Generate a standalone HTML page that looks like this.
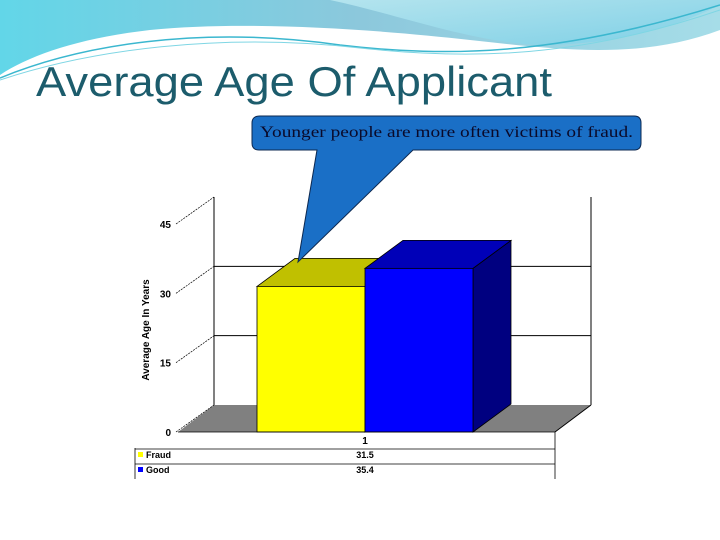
<!DOCTYPE html>
<html><head><meta charset="utf-8"><style>
html,body{margin:0;padding:0;background:#fff;}
svg{display:block;}
</style></head><body>
<svg width="720" height="540" viewBox="0 0 720 540" xmlns="http://www.w3.org/2000/svg">
<defs>
<linearGradient id="sky" x1="0" y1="0" x2="1" y2="0">
<stop offset="0" stop-color="#62d6e8"/><stop offset="0.5" stop-color="#8cc8dc"/><stop offset="1" stop-color="#a6dde8"/>
</linearGradient>
<linearGradient id="sky2" x1="0" y1="0" x2="1" y2="1">
<stop offset="0" stop-color="#b4e4ee"/><stop offset="1" stop-color="#7fd0e6"/>
</linearGradient>
</defs>
<g>
<path d="M0,0 H720 V30 C640,60 560,50 470,40 C380,30 250,20 150,30 C80,38 30,55 0,75 Z" fill="url(#sky)"/>
<path d="M330,0 H720 V5 C680,25 620,45 540,45 C470,42 400,15 330,0 Z" fill="url(#sky2)"/>
<path d="M0,78 C80,45 200,25 340,45 C450,58 560,55 720,5" fill="none" stroke="#3bb7cf" stroke-width="1.5"/>
<path d="M0,80 C90,50 220,32 360,48 C470,60 580,58 720,10" fill="none" stroke="#7fd6e4" stroke-width="1"/>
</g>
<text x="36" y="96" font-family="Liberation Sans, sans-serif" font-size="42" fill="#1c5c6c" textLength="516" lengthAdjust="spacingAndGlyphs">Average Age Of Applicant</text>
<g id="chart"></g>
<g>
<path d="M260,116 H634 Q641,116 641,123 V143 Q641,150 634,150 H413 L298,262 L317,150 H259 Q252,150 252,143 V123 Q252,116 260,116 Z" fill="#1a6fc6" stroke="#0c2850" stroke-width="1"/>
<text x="260" y="137" font-family="Liberation Serif, serif" font-size="16" fill="#0a0a2a" textLength="373" lengthAdjust="spacingAndGlyphs">Younger people are more often victims of fraud.</text>
</g>
</svg>
<script>
const categories = ["1"];
const seriesNames = ["Fraud","Good"];
const fraudValues = [31.5];
const goodValues = [35.4];
const yTicks = [0,15,30,45];
const NS="http://www.w3.org/2000/svg";
const g=document.getElementById('chart');
const y0=432, pxPer=(432-224)/45, dX=36, dY=-27, bdx=38, bdy=-28;
function y(v){return y0-v*pxPer;}
function mk(tag,attrs){const e=document.createElementNS(NS,tag);for(const k in attrs)e.setAttribute(k,attrs[k]);g.appendChild(e);return e;}
let floor=mk('polygon',{points:`178,${y0} 555,${y0} ${555+dX},${y0+dY} ${178+dX},${y0+dY}`,fill:'#808080'});


let wl=mk('line',{x1:178+dX,y1:y(0)+dY,x2:178+dX,y2:y(45)+dY,stroke:'#000','stroke-width':1});


let wr=mk('line',{x1:555+dX,y1:y(0)+dY,x2:555+dX,y2:y(45)+dY,stroke:'#000','stroke-width':1});


let fe=mk('line',{x1:555,y1:y0,x2:555+dX,y2:y0+dY,stroke:'#000','stroke-width':1});


yTicks.forEach(t=>{
  if(t>0&&t<45){let gl=mk('line',{x1:178+dX,y1:y(t)+dY,x2:555+dX,y2:y(t)+dY,stroke:'#000','stroke-width':1});
  
  }
  let tl=mk('line',{x1:176,y1:y(t),x2:178+dX,y2:y(t)+dY,stroke:'#000','stroke-width':0.7,'stroke-dasharray':'2,1'});
  
  
  let tx=mk('text',{x:171,y:y(t)+4,'text-anchor':'end','font-family':'Liberation Sans, sans-serif','font-size':10,'font-weight':'bold',fill:'#000'});
  tx.textContent=t;
  
  
});
let yt=mk('text',{x:0,y:0,transform:'translate(149,330) rotate(-90)','text-anchor':'middle','font-family':'Liberation Sans, sans-serif','font-size':10,'font-weight':'bold',fill:'#000'});
yt.textContent='Average Age In Years';


function bar(x,w,v,front,top,side,name){
  const t=y(v);
  let s=mk('polygon',{points:`${x+w},${y0} ${x+w+bdx},${y0+bdy} ${x+w+bdx},${t+bdy} ${x+w},${t}`,fill:side,stroke:'#000','stroke-width':0.8});
  
  
  let tp=mk('polygon',{points:`${x},${t} ${x+bdx},${t+bdy} ${x+w+bdx},${t+bdy} ${x+w},${t}`,fill:top,stroke:'#000','stroke-width':0.8});
  
  
  let f=mk('rect',{x:x,y:t,width:w,height:y0-t,fill:front,stroke:'#000','stroke-width':0.8});
  
  
}
bar(257,108,fraudValues[0],'#ffff00','#c0c000','#808000','bar-fraud');
bar(365,108,goodValues[0],'#0000ff','#0000b8','#000080','bar-good');
let bl=mk('line',{x1:178,y1:y0,x2:555,y2:y0,stroke:'#000','stroke-width':0.8});


let cat=mk('text',{x:365,y:444,'text-anchor':'middle','font-family':'Liberation Sans, sans-serif','font-size':10,'font-weight':'bold',fill:'#000'});
cat.textContent=categories[0];


[[135,448,135,479],[555,432,555,479],[135,449,555,449],[135,464,555,464]].forEach(l=>{
  let ln=mk('line',{x1:l[0],y1:l[1],x2:l[2],y2:l[3],stroke:'#000','stroke-width':0.8});
  
  
});
const rows=[[seriesNames[0],fraudValues[0],'#ffff00',458],[seriesNames[1],goodValues[0],'#0000ff',473]];
rows.forEach(r=>{
  let k=mk('rect',{x:138,y:r[3]-6,width:5,height:5,fill:r[2]});
  
  
  let n=mk('text',{x:146,y:r[3],'font-family':'Liberation Sans, sans-serif','font-size':9,'font-weight':'bold',fill:'#000'});
  n.textContent=r[0];
  
  
  let v=mk('text',{x:365,y:r[3],'text-anchor':'middle','font-family':'Liberation Sans, sans-serif','font-size':9,'font-weight':'bold',fill:'#000'});
  v.textContent=r[1].toFixed(1);
  
  
});
</script>
</body></html>
